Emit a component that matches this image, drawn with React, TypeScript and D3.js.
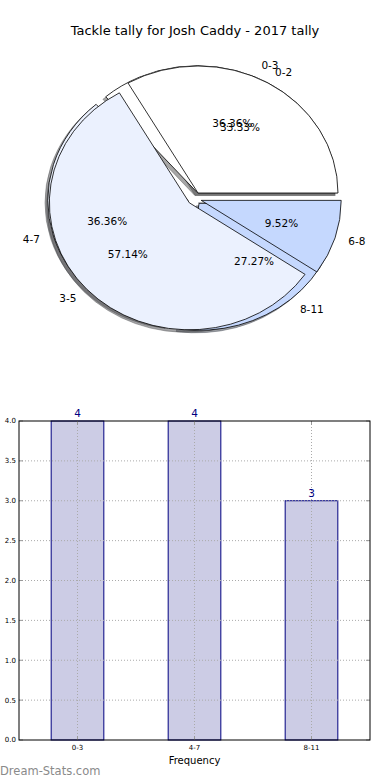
import React from "react";
import * as d3 from "d3";

const pieALabels = ["0-3", "4-7", "8-11"];
const pieAValues = [4, 4, 3];
const pieBLabels = ["0-2", "3-5", "6-8"];
const pieBValues = [7, 12, 2];
const wedgeColors = ["#ffffff", "#ebf1fe", "#c5d8fe"];

const barCategories = ["0-3", "4-7", "8-11"];
const barValues = [4, 4, 3];
const yTicks = [0, 0.5, 1, 1.5, 2, 2.5, 3, 3.5, 4];

const W = 390;
const H = 780;
const CX = 194.5;
const CY = 198.5;
const SX = 140;
const SY = 127;
const EXPLODE = 0.05;
const FONT = "DejaVu Sans, sans-serif";

type Wedge = {
  label: string;
  pct: number;
  start: number;
  end: number;
  mid: number; // math angle (ccw from east)
  color: string;
};

function makeWedges(labels: string[], values: number[]): Wedge[] {
  const total = d3.sum(values);
  const pie = d3
    .pie<number>()
    .sort(null)
    .startAngle(Math.PI / 2)
    .endAngle(Math.PI / 2 - 2 * Math.PI);
  return pie(values).map((p, i) => {
    const mid = Math.PI / 2 - (p.startAngle + p.endAngle) / 2;
    return {
      label: labels[i],
      pct: (values[i] / total) * 100,
      start: Math.min(p.startAngle, p.endAngle),
      end: Math.max(p.startAngle, p.endAngle),
      mid,
      color: wedgeColors[i % wedgeColors.length],
    };
  });
}

const arc = d3.arc<any>().innerRadius(0).outerRadius(100);

function shadowColor(c: string) {
  const col = d3.rgb(c);
  return d3.rgb(col.r * 0.3, col.g * 0.3, col.b * 0.3).toString();
}

function WedgePath({ w, shadow }: { w: Wedge; shadow: boolean }) {
  const ox = EXPLODE * SX * Math.cos(w.mid) + (shadow ? -0.02 * SX : 0);
  const oy = -EXPLODE * SY * Math.sin(w.mid) + (shadow ? 0.02 * SY : 0);
  const d = arc({ startAngle: w.start, endAngle: w.end }) as string;
  const sc = shadowColor(w.color);
  return (
    <path
      d={d}
      transform={`translate(${CX + ox},${CY + oy}) scale(${SX / 100},${SY / 100})`}
      fill={shadow ? sc : w.color}
      fillOpacity={shadow ? 0.5 : 1}
      stroke={shadow ? sc : "#000"}
      strokeOpacity={shadow ? 0.5 : 1}
      strokeWidth={0.8}
      vectorEffect="non-scaling-stroke"
      strokeLinejoin="round"
    />
  );
}

function WedgeTexts({ w }: { w: Wedge }) {
  const c = Math.cos(w.mid);
  const s = Math.sin(w.mid);
  const ex = EXPLODE * SX * c;
  const ey = -EXPLODE * SY * s;
  const lx = CX + ex + 1.1 * SX * c;
  const ly = CY + ey - 1.1 * SY * s;
  const px = CX + ex + 0.6 * SX * c;
  const py = CY + ey - 0.6 * SY * s;
  return (
    <g fontFamily={FONT} fontSize={10.5} fill="#000">
      <text x={lx} y={ly} dy="0.35em" textAnchor={c > 0 ? "start" : "end"}>
        {w.label}
      </text>
      <text x={px} y={py} dy="0.35em" textAnchor="middle">
        {w.pct.toFixed(2) + "%"}
      </text>
    </g>
  );
}

export default function App() {
  const wedgesA = makeWedges(pieALabels, pieAValues);
  const wedgesB = makeWedges(pieBLabels, pieBValues);

  const left = 19;
  const right = 370;
  const top = 421;
  const bottom = 740;

  const x = d3
    .scaleLinear()
    .domain([-0.5, barCategories.length - 0.5])
    .range([left, right]);
  const y = d3.scaleLinear().domain([0, 4]).range([bottom, top]);
  const barW = x(0.45) - x(0);

  return (
    <svg
      width={W}
      height={H}
      style={{ position: "absolute", left: 0, top: 0, background: "#fff" }}
    >
      <rect x={0} y={0} width={W} height={H} fill="#fff" />
      <text
        x={195}
        y={30}
        dy="0.35em"
        textAnchor="middle"
        fontFamily={FONT}
        fontSize={13}
        fill="#000"
      >
        Tackle tally for Josh Caddy - 2017 tally
      </text>

      {/* shadows (below all wedges) */}
      {wedgesA.map((w, i) => (
        <WedgePath key={"sa" + i} w={w} shadow={true} />
      ))}
      {wedgesB.map((w, i) => (
        <WedgePath key={"sb" + i} w={w} shadow={true} />
      ))}
      {wedgesA.map((w, i) => (
        <WedgePath key={"wa" + i} w={w} shadow={false} />
      ))}
      {wedgesB.map((w, i) => (
        <WedgePath key={"wb" + i} w={w} shadow={false} />
      ))}
      {wedgesA.map((w, i) => (
        <WedgeTexts key={"ta" + i} w={w} />
      ))}
      {wedgesB.map((w, i) => (
        <WedgeTexts key={"tb" + i} w={w} />
      ))}

      {/* bar chart */}
      {barValues.map((v, i) => (
        <rect
          key={"bar" + i}
          x={x(i) - barW / 2}
          y={y(v)}
          width={barW}
          height={y(0) - y(v)}
          fill="#ccccE5"
          stroke="#000080"
          strokeWidth={1}
        />
      ))}
      {/* grid */}
      {yTicks.slice(1, -1).map((t) => (
        <line
          key={"gy" + t}
          x1={left}
          x2={right}
          y1={y(t)}
          y2={y(t)}
          stroke="#aaa"
          strokeWidth={1}
          strokeDasharray="1,2"
        />
      ))}
      {barCategories.map((c, i) => (
        <line
          key={"gx" + c}
          x1={x(i)}
          x2={x(i)}
          y1={top}
          y2={bottom}
          stroke="#aaa"
          strokeWidth={1}
          strokeDasharray="1,2"
        />
      ))}
      {/* ticks */}
      {yTicks.map((t) => (
        <g key={"ty" + t}>
          <line x1={left} x2={left + 4} y1={y(t)} y2={y(t)} stroke="#999" />
          <line x1={right - 4} x2={right} y1={y(t)} y2={y(t)} stroke="#999" />
          <text
            x={left - 3}
            y={y(t)}
            dy="0.35em"
            textAnchor="end"
            fontFamily={FONT}
            fontSize={7}
            fill="#000"
          >
            {t.toFixed(1)}
          </text>
        </g>
      ))}
      {barCategories.map((c, i) => (
        <g key={"tx" + c}>
          <line x1={x(i)} x2={x(i)} y1={bottom} y2={bottom - 4} stroke="#999" />
          <line x1={x(i)} x2={x(i)} y1={top} y2={top + 4} stroke="#999" />
          <text
            x={x(i)}
            y={bottom + 8}
            dy="0.35em"
            textAnchor="middle"
            fontFamily={FONT}
            fontSize={7}
            fill="#000"
          >
            {c}
          </text>
        </g>
      ))}
      <rect
        x={left}
        y={top}
        width={right - left}
        height={bottom - top}
        fill="none"
        stroke="#000"
        strokeWidth={1}
      />
      {barValues.map((v, i) => (
        <text
          key={"bv" + i}
          x={x(i)}
          y={y(v) - 4}
          textAnchor="middle"
          fontFamily={FONT}
          fontSize={10.5}
          fill="#000080"
        >
          {v}
        </text>
      ))}
      <text
        x={(left + right) / 2}
        y={760}
        dy="0.35em"
        textAnchor="middle"
        fontFamily={FONT}
        fontSize={10}
        fill="#000"
      >
        Frequency
      </text>
      <text
        x={0}
        y={775}
        fontFamily={FONT}
        fontSize={11.5}
        fontWeight="normal"
        fill="#8a8a8a"
      >
        Dream-Stats.com
      </text>
    </svg>
  );
}
